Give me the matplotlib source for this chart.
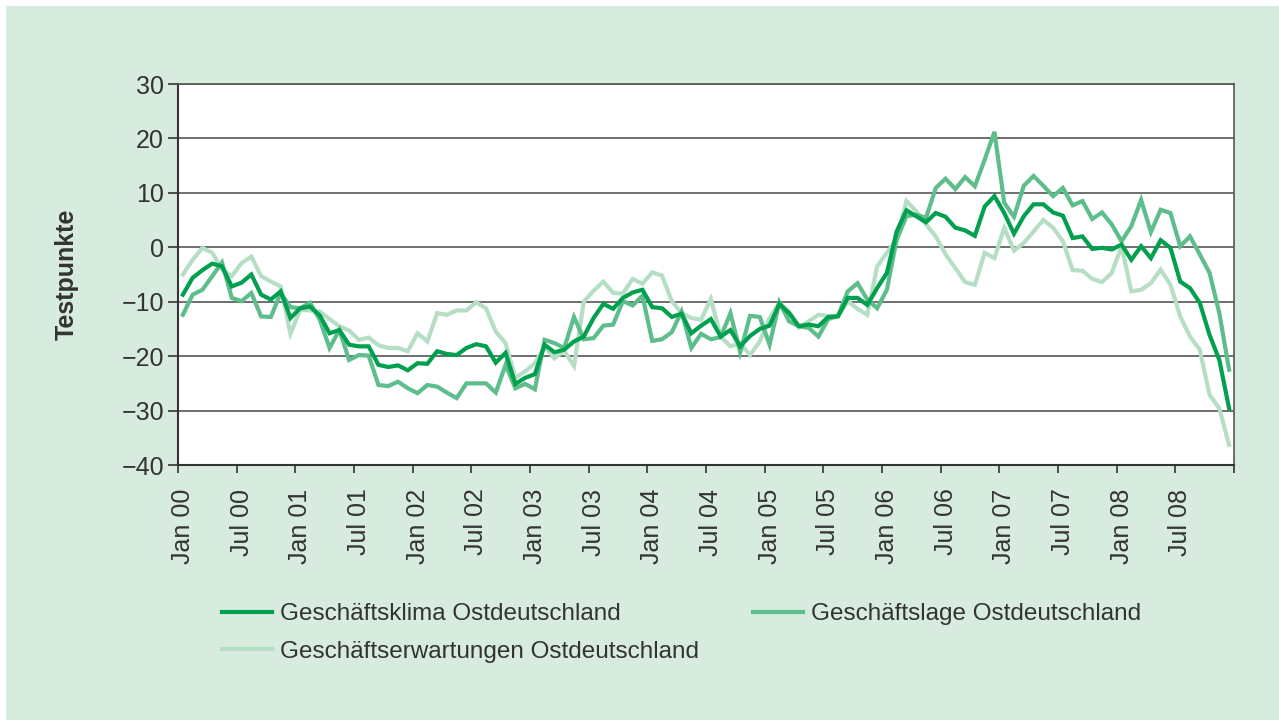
import matplotlib
matplotlib.use("Agg")
import matplotlib.pyplot as plt
import numpy as np

plt.rcParams['font.family'] = ['Liberation Sans', 'DejaVu Sans']

tick_labels = ["Jan 00", "Jul 00", "Jan 01", "Jul 01", "Jan 02", "Jul 02", "Jan 03", "Jul 03",
               "Jan 04", "Jul 04", "Jan 05", "Jul 05", "Jan 06", "Jul 06", "Jan 07", "Jul 07",
               "Jan 08", "Jul 08"]

klima = [-8.7, -5.6, -4.2, -3.0, -3.5, -7.2, -6.5, -5.0, -8.7, -9.6, -8.1, -13.0,
         -11.2, -10.9, -12.5, -15.8, -15.2, -17.9, -18.2, -18.2, -21.6, -22.0, -21.7, -22.6,
         -21.3, -21.4, -19.1, -19.6, -19.8, -18.5, -17.8, -18.2, -21.2, -19.4, -25.1, -24.0,
         -23.3, -17.9, -19.3, -18.8, -17.3, -16.4, -13.0, -10.4, -11.3, -9.3, -8.3, -7.8,
         -11.0, -11.2, -12.8, -12.2, -15.8, -14.4, -13.2, -16.4, -15.2, -18.2, -16.3, -15.0,
         -14.4, -10.4, -12.1, -14.5, -14.2, -14.5, -12.8, -12.7, -9.3, -9.3, -10.6, -7.5,
         -4.7, 2.9, 6.8, 5.7, 4.6, 6.3, 5.6, 3.6, 3.1, 2.1, 7.5, 9.4,
         6.3, 2.5, 5.7, 7.9, 7.9, 6.4, 5.8, 1.7, 2.0, -0.3, -0.1, -0.4,
         0.5, -2.3, 0.2, -2.0, 1.3, -0.1, -6.3, -7.5, -10.2, -16.1, -20.7, -29.6]

lage = [-12.4, -8.7, -7.8, -5.3, -2.8, -9.3, -9.9, -8.4, -12.7, -12.8, -8.4, -11.0,
        -11.2, -10.2, -13.3, -18.5, -15.2, -20.7, -19.8, -19.9, -25.3, -25.5, -24.7, -25.9,
        -26.8, -25.3, -25.6, -26.7, -27.7, -25.0, -25.0, -25.0, -26.7, -21.6, -25.9, -25.1,
        -26.1, -17.0, -17.6, -18.5, -12.8, -16.9, -16.7, -14.4, -14.2, -9.9, -10.7, -8.9,
        -17.2, -16.9, -15.6, -11.8, -18.5, -15.9, -16.9, -16.5, -12.1, -19.3, -12.6, -12.8,
        -17.9, -10.1, -13.6, -14.5, -14.8, -16.4, -13.2, -12.6, -8.1, -6.6, -9.6, -11.2,
        -7.8, 1.4, 5.7, 6.0, 5.4, 10.9, 12.6, 10.7, 12.9, 11.2, 16.1, 21.2,
        8.2, 5.6, 11.3, 13.1, 11.3, 9.4, 10.9, 7.7, 8.5, 5.2, 6.4, 4.2,
        1.1, 3.9, 8.7, 2.8, 6.9, 6.3, 0.2, 2.0, -1.3, -4.7, -12.1, -22.5]

erwartungen = [-5.0, -2.3, -0.1, -1.0, -4.1, -5.3, -2.9, -1.7, -5.3, -6.3, -7.2, -15.9,
               -11.5, -11.6, -11.8, -13.2, -14.5, -15.3, -17.0, -16.6, -18.0, -18.5, -18.5, -19.1,
               -15.8, -17.3, -12.1, -12.4, -11.6, -11.6, -10.1, -11.2, -15.5, -17.6, -24.0, -22.8,
               -21.3, -18.2, -20.4, -19.0, -21.8, -10.0, -8.0, -6.3, -8.4, -8.5, -5.8, -6.7,
               -4.6, -5.2, -9.9, -12.1, -13.0, -13.3, -9.5, -16.4, -18.2, -17.6, -19.8, -17.3,
               -13.0, -10.2, -11.8, -14.7, -13.6, -12.4, -12.6, -12.6, -9.9, -11.3, -12.4, -3.5,
               -1.0, 1.4, 8.5, 6.6, 4.2, 2.0, -1.3, -3.8, -6.4, -6.9, -1.0, -2.0,
               3.6, -0.6, 0.8, 2.9, 5.0, 3.6, 1.1, -4.2, -4.3, -5.8, -6.4, -4.7,
               0.2, -8.1, -7.8, -6.6, -4.1, -6.9, -12.7, -16.4, -18.8, -27.1, -29.6, -36.3]

series_names = ["Geschäftsklima Ostdeutschland", "Geschäftslage Ostdeutschland",
                "Geschäftserwartungen Ostdeutschland"]

c_klima = "#00a04e"
c_lage = "#5dbd8b"
c_erw = "#b5dec5"
bg = "#d7ebdf"
txt = "#333333"

fig = plt.figure(figsize=(12.79, 7.20), dpi=100)
fig.patch.set_facecolor("white")
fig.patches.append(plt.Rectangle((6/1279, 0), 1 - 6/1279, 1 - 6/720, transform=fig.transFigure,
                                 facecolor=bg, edgecolor="none", zorder=-10))

ax = fig.add_axes([178/1279, 1 - 465/720, (1234 - 178)/1279, (465 - 84)/720])
ax.set_facecolor("white")

x = np.arange(len(klima))
l3, = ax.plot(x, erwartungen, color=c_erw, lw=3.0, label=series_names[2], solid_joinstyle="miter", zorder=3)
l2, = ax.plot(x, lage, color=c_lage, lw=3.0, label=series_names[1], solid_joinstyle="miter", zorder=4)
l1, = ax.plot(x, klima, color=c_klima, lw=3.0, label=series_names[0], solid_joinstyle="miter", zorder=5)

ax.set_xlim(-0.5, len(klima) - 0.5)
ax.set_ylim(-40, 30)
ax.set_yticks(np.arange(-40, 31, 10))
ax.set_yticklabels([str(v).replace("-", "\u2212") for v in range(-40, 31, 10)])
ax.yaxis.grid(True, color="#555555", lw=1.2)
ax.set_axisbelow(True)

ax.set_xticks(np.arange(0, len(klima), 6))
ax.set_xticklabels(tick_labels, rotation=90)
ax.set_xticks(np.arange(-0.5, len(klima), 6), minor=True)
ax.tick_params(axis="x", which="major", length=0, pad=17, labelsize=18, labelcolor=txt)
ax.tick_params(axis="x", which="minor", length=6, width=1.2, color="#333333", direction="out")
ax.tick_params(axis="y", length=7, width=1.2, color="#333333", labelsize=18, labelcolor=txt, pad=3)

for s in ["left", "bottom"]:
    ax.spines[s].set_color("#333333")
    ax.spines[s].set_linewidth(1.5)
ax.spines["right"].set_color("#555555")
ax.spines["right"].set_linewidth(1.2)
ax.spines["top"].set_color("#555555")
ax.spines["top"].set_linewidth(1.2)

fig.text(67/1279, 1 - 274/720, "Testpunkte", rotation=90, fontsize=18, fontweight="bold",
         color=txt, ha="center", va="center")

leg = fig.legend(handles=[l1, l3, l2], labels=[series_names[0], series_names[2], series_names[1]],
                 ncol=2, loc="upper left", bbox_to_anchor=(222/1279, 1 - 603/720),
                 frameon=False, fontsize=17.5, handlelength=2.05, handletextpad=0.33,
                 columnspacing=2.23, labelspacing=0.65, borderaxespad=0, borderpad=0)
for t in leg.get_texts():
    t.set_color(txt)

fig.savefig("out.png", dpi=100, facecolor=fig.get_facecolor())
